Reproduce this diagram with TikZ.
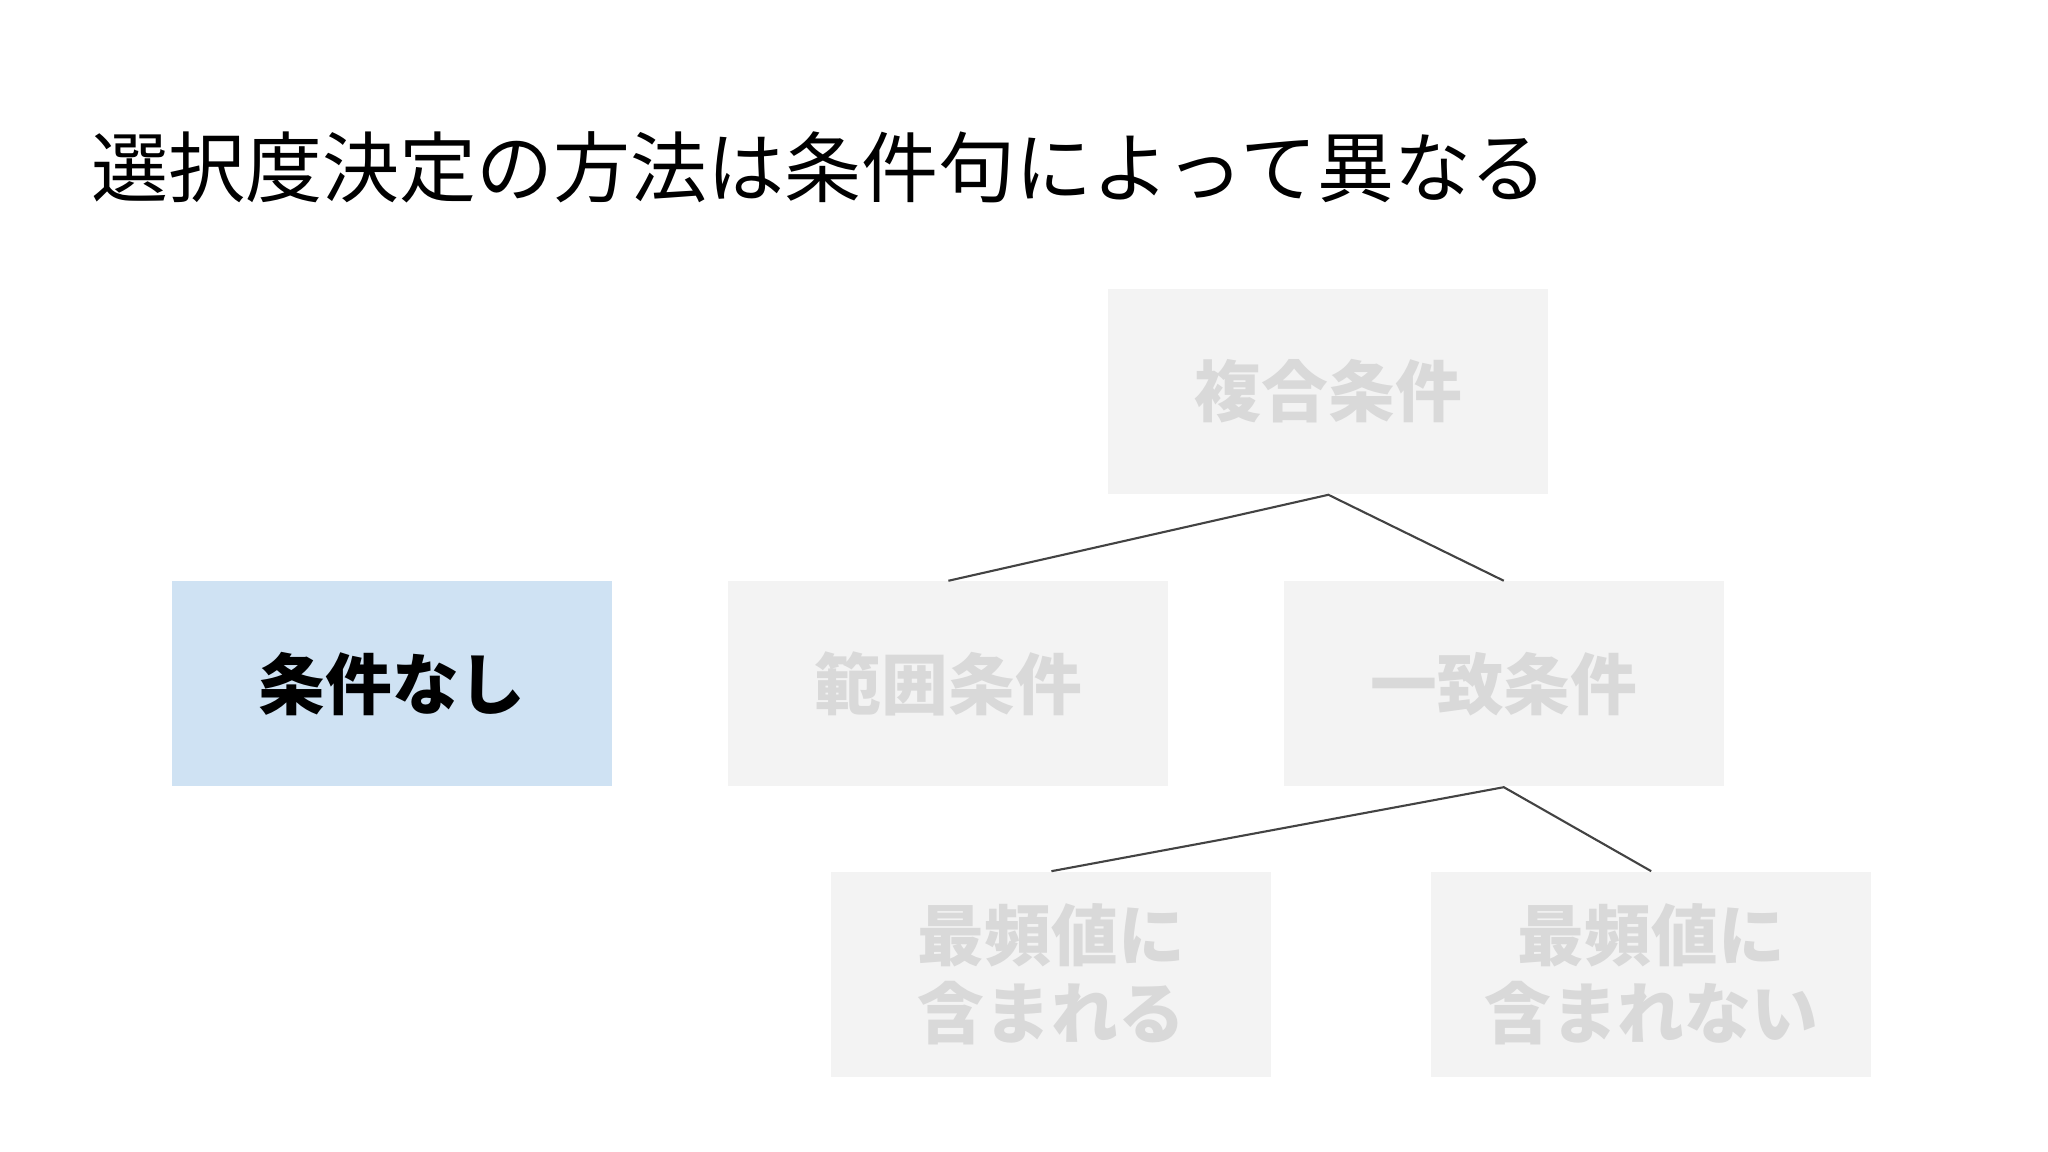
\documentclass[tikz,border=0pt]{standalone}
\usepackage{fontspec}
\usepackage{tikz}
\usetikzlibrary{positioning}
\newfontfamily\jpfont{Noto Sans CJK JP}
\definecolor{boxgray}{HTML}{F3F3F3}
\definecolor{labelgray}{HTML}{D9D9D9}
\definecolor{nonepale}{HTML}{CFE2F3}
\definecolor{linkgray}{HTML}{434343}
\tikzstyle{every picture}+=[font=\jpfont]

\begin{document}
\begin{tikzpicture}
			[scale=1, inner sep=0pt,
			faded/.style		= {rectangle, fill=boxgray, text=labelgray, font=\jpfont\bfseries\fontsize{19}{22.2}\selectfont, align=center, minimum width=44mm, minimum height=20.5mm},
			current/.style		= {rectangle, fill=nonepale, text=black, font=\jpfont\bfseries\fontsize{19}{22.2}\selectfont, minimum width=44mm, minimum height=20.5mm},
			link/.style			= {draw=linkgray, line width=.6pt}]

			\useasboundingbox (0,0) rectangle (20.48,11.52);

			\node [anchor=west, font=\jpfont\fontsize{21.9}{26}\selectfont] at (.91,9.85)	(0)	{選択度決定の方法は条件句によって異なる};

			\node [current]	at (3.92,4.68)							(3)	{条件なし};
			\node [faded]	[right = 11.5mm of 3]					(4)	{範囲条件};
			\node [faded]	[right = 11.4mm of 4]					(5)	{一致条件};
			\node [faded]	[above left  = 8.6mm and -26.6mm of 5]	(2)	{複合条件};
			\node [faded]	[below left  = 8.4mm and 1.1mm of 5]	(6)	{最頻値に\\含まれる};
			\node [faded]	[below right = 8.4mm and -29.4mm of 5]	(7)	{最頻値に\\含まれない};

			\draw [link] (4.north) -- (2.south) -- (5.north);
			\draw [link] (6.north) -- (5.south) -- (7.north);
			\end{tikzpicture}
\end{document}
